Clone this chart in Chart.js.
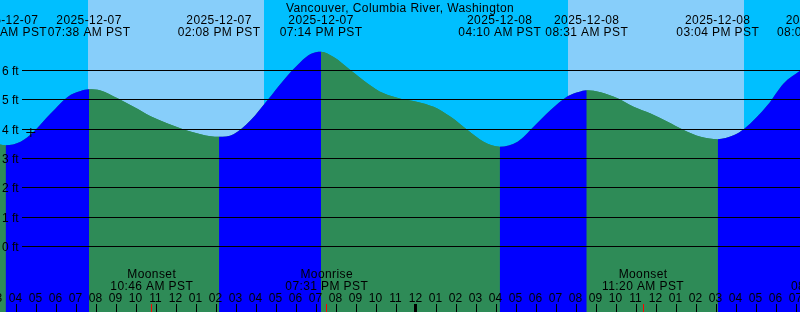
<!DOCTYPE html>
<html>
<head>
<meta charset="utf-8">
<script src="https://cdn.jsdelivr.net/npm/chart.js@4/dist/chart.umd.min.js"></script>
<style>
  html, body { margin: 0; padding: 0; background: #00BFFF; }
  canvas { display: block; }
</style>
</head>
<body>
<canvas id="c" width="800" height="312"></canvas>
<script>
// ---- Data (hours are counted from 2025-12-07 00:00 PST) ----
const title = 'Vancouver, Columbia River, Washington';

const tideHours = [3.18, 3.46, 4.21, 4.86, 5.71, 6.56, 7.21, 7.633, 8.21, 9.06, 9.86, 10.71, 11.56, 12.36, 13.21, 13.71, 14.133,
  14.86, 15.71, 16.56, 17.36, 18.21, 18.71, 19.233, 19.86, 20.71, 21.56, 22.36, 23.21, 24.06, 24.86, 25.71, 26.56, 27.36, 28.167,
  29.06, 29.86, 30.71, 31.56, 32.11, 32.517, 33.21, 34.06, 34.86, 35.71, 36.56, 37.36, 38.21, 39.067, 39.86, 40.41, 41.56, 42.36, 43.21];
const tideFeet = [3.48, 3.45, 3.57, 3.91, 4.53, 5.10, 5.30, 5.36, 5.32, 5.05, 4.76, 4.44, 4.19, 3.99, 3.83, 3.76, 3.74,
  3.83, 4.30, 4.99, 5.67, 6.29, 6.56, 6.64, 6.46, 6.01, 5.56, 5.22, 5.04, 4.93, 4.76, 4.42, 3.97, 3.57, 3.40,
  3.57, 4.08, 4.65, 5.12, 5.27, 5.33, 5.26, 5.05, 4.76, 4.53, 4.25, 3.97, 3.74, 3.66, 3.79, 4.02, 4.82, 5.56, 6.01];

const eventHours = [3.46, 7.633, 14.133, 19.233, 28.167, 32.517, 39.067, 44.1];
const eventDates = ['2025-12-07', '2025-12-07', '2025-12-07', '2025-12-07', '2025-12-08', '2025-12-08', '2025-12-08', '2025-12-08'];
const eventTimes = ['03:27 AM PST', '07:38 AM PST', '02:08 PM PST', '07:14 PM PST', '04:10 AM PST', '08:31 AM PST', '03:04 PM PST', '08:06 PM PST'];

const moonHours = [10.767, 19.517, 35.333, 44.8];
const moonNames = ['Moonset', 'Moonrise', 'Moonset', 'Moonrise'];
const moonTimes = ['10:46 AM PST', '07:31 PM PST', '11:20 AM PST', '08:47 PM PST'];

const sunriseHours = [7.6, 31.6];
const sunsetHours = [16.38, 40.38];

const nowHour = 4.72;
const nowFeet = 3.886;

const footTicks = [0, 1, 2, 3, 4, 5, 6];
const footLabels = ['0 ft', '1 ft', '2 ft', '3 ft', '4 ft', '5 ft', '6 ft'];

const firstHourTick = 3;
const hourLabels = ['03','04','05','06','07','08','09','10','11','12','01','02',
  '03','04','05','06','07','08','09','10','11','12','01','02',
  '03','04','05','06','07','08','09','10','11','12','01','02',
  '03','04','05','06','07'];
const midnightHours = [24];

// ---- Styles ----
const NIGHT = '#00BFFF', DAY = '#87CEFA', RISE = '#0000FF', FALL = '#2E8B57';
const FONT = '12px "Liberation Sans", Arial, sans-serif';

const backgroundPlugin = {
  id: 'skyBands',
  beforeDraw(chart) {
    const { ctx, chartArea: a, scales: { x } } = chart;
    ctx.save();
    ctx.fillStyle = NIGHT;
    ctx.fillRect(a.left, a.top, a.right - a.left, a.bottom - a.top);
    ctx.fillStyle = DAY;
    sunriseHours.forEach((sr, i) => {
      const x0 = Math.round(x.getPixelForValue(sr));
      const x1 = Math.round(x.getPixelForValue(sunsetHours[i]));
      ctx.fillRect(x0, a.top, x1 - x0, a.bottom - a.top);
    });
    ctx.restore();
  }
};

const overlayPlugin = {
  id: 'overlay',
  afterDatasetsDraw(chart) {
    const { ctx, chartArea: a, scales: { x, y } } = chart;
    ctx.save();
    ctx.font = FONT;
    ctx.fillStyle = '#000';
    ctx.strokeStyle = '#000';
    ctx.lineWidth = 1;

    // height lines and labels
    footTicks.forEach((v, i) => {
      const py = Math.round(y.getPixelForValue(v) - 0.5) + 0.5;
      ctx.beginPath();
      ctx.moveTo(22, py);
      ctx.lineTo(a.right, py);
      ctx.stroke();
      ctx.textAlign = 'left';
      ctx.textBaseline = 'alphabetic';
      ctx.fillText(footLabels[i], 2, py + 4.5);
    });

    // title and labels with slight letter spacing
    ctx.letterSpacing = '0.4px';
    ctx.textAlign = 'center';
    ctx.textBaseline = 'alphabetic';
    ctx.fillText(title, 400, 12);

    eventHours.forEach((h, i) => {
      const px = x.getPixelForValue(h);
      ctx.fillText(eventDates[i], px, 24);
      ctx.fillText(eventTimes[i], px, 36);
    });

    moonHours.forEach((h, i) => {
      const px = x.getPixelForValue(h);
      ctx.fillText(moonNames[i], px, 278);
      ctx.fillText(moonTimes[i], px, 290);
    });
    ctx.letterSpacing = '0px';

    // hour ticks & labels
    hourLabels.forEach((lab, i) => {
      const h = firstHourTick + i;
      const px = Math.round(x.getPixelForValue(h) - 0.5) + 0.5;
      ctx.fillText(lab, px - 1, 302);
      if (midnightHours.includes(h)) {
        ctx.fillRect(px - 2.5, 304, 3, 8);
      } else {
        ctx.beginPath();
        ctx.moveTo(px, 304);
        ctx.lineTo(px, 312);
        ctx.stroke();
      }
    });

    // moon ticks (red)
    ctx.strokeStyle = '#FF0000';
    moonHours.forEach(h => {
      const px = Math.round(x.getPixelForValue(h) - 0.5) + 0.5;
      ctx.beginPath();
      ctx.moveTo(px, 304);
      ctx.lineTo(px, 312);
      ctx.stroke();
    });
    ctx.restore();
  }
};

const tidePoints = tideHours.map((t, i) => ({ x: t, y: tideFeet[i] }));

new Chart(document.getElementById('c'), {
  type: 'line',
  data: {
    datasets: [
      {
        // water level, coloured blue while rising and green while falling
        data: tidePoints,
        fill: 'start',
        backgroundColor: RISE,
        borderColor: 'rgba(0,0,0,0)',
        borderWidth: 0,
        pointRadius: 0,
        cubicInterpolationMode: 'monotone',
        segment: {
          backgroundColor: c => (c.p1.parsed.y >= c.p0.parsed.y ? RISE : FALL)
        },
        order: 2
      },
      {
        // same water level as a plain underlay, hides anti-aliasing seams at turning points
        data: tidePoints,
        fill: 'start',
        backgroundColor: FALL,
        borderColor: 'rgba(0,0,0,0)',
        borderWidth: 0,
        pointRadius: 0,
        cubicInterpolationMode: 'monotone',
        order: 3
      },
      {
        type: 'scatter',
        data: [{ x: nowHour, y: nowFeet }],
        pointStyle: 'cross',
        pointRadius: 4.5,
        borderColor: '#000',
        backgroundColor: '#000',
        borderWidth: 1,
        order: 1
      }
    ]
  },
  options: {
    responsive: false,
    maintainAspectRatio: false,
    animation: false,
    events: [],
    layout: { padding: 0, autoPadding: false },
    scales: {
      x: { type: 'linear', min: 3.18, max: 43.18, display: false },
      y: { type: 'linear', min: -2.233, max: 8.403, display: false }
    },
    plugins: {
      legend: { display: false },
      tooltip: { enabled: false }
    }
  },
  plugins: [backgroundPlugin, overlayPlugin]
});
</script>
</body>
</html>
